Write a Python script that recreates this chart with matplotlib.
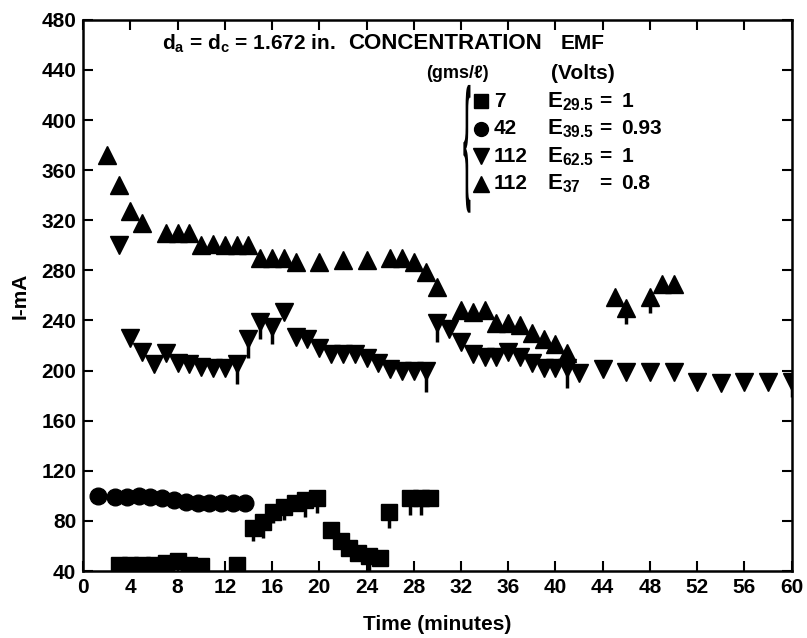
import matplotlib
matplotlib.use('Agg')
import matplotlib.pyplot as plt
from matplotlib.textpath import TextPath
from matplotlib.patches import PathPatch
from matplotlib.transforms import Affine2D
from matplotlib.font_manager import FontProperties

plt.rcParams['font.family'] = ['Liberation Sans', 'DejaVu Sans']
plt.rcParams['font.weight'] = 'bold'
plt.rcParams['mathtext.default'] = 'regular'

# 7 gms/l  (squares)
t_sq = [3, 4, 5, 6, 7, 8, 9, 10, 13,
        14.4, 15.2, 16.1, 17, 17.9, 18.8, 19.8,
        21, 21.8, 22.5, 23.3, 24.2, 25.1, 25.9,
        27.7, 28.6, 29.4]
i_sq = [45, 45, 45, 45, 46, 48, 45, 44, 45,
        74, 79, 87, 91, 94, 97, 98,
        73, 64, 58, 54, 52, 50, 87,
        98, 98, 98]
# smeared "drips" below some points of the scan (mA below the mark)
drip_sq = [0, 0, 0, 0, 0, 0, 0, 0, 0,
           10, 13, 9, 10, 0, 14, 12,
           0, 0, 0, 0, 12, 0, 13,
           13, 13, 0]

# 42 gms/l  (circles)
t_ci = [1.3, 2.7, 3.7, 4.7, 5.7, 6.7, 7.7, 8.7, 9.7, 10.7, 11.7, 12.7, 13.7]
i_ci = [100, 99, 99, 100, 99, 98, 97, 95, 94, 94, 94, 94, 94]

# 112 gms/l, E62.5  (down triangles)
t_dn = [3, 4, 5, 6, 7, 8, 9, 10, 11, 12, 13,
        14, 15, 16, 17, 18, 19, 20,
        21, 22, 23, 24, 25, 26, 27, 28, 29,
        30, 31, 32, 33, 34, 35, 36, 37, 38, 39, 40, 41, 42,
        44, 46, 48, 50, 52, 54, 56, 58, 60]
i_dn = [300, 226, 215, 205, 214, 206, 205, 203, 202, 202, 205,
        225, 239, 235, 247, 227, 225, 218,
        213, 213, 213, 210, 206, 201, 200, 200, 200,
        238, 233, 223, 213, 211, 211, 215, 211, 206, 202, 202, 202, 198,
        201, 199, 199, 199, 191, 190, 191, 191, 191]
drip_dn = [0, 0, 0, 0, 0, 0, 0, 0, 0, 0, 16,
           15, 14, 14, 0, 0, 0, 0,
           0, 0, 0, 0, 0, 0, 0, 0, 17,
           15, 0, 0, 0, 0, 0, 0, 0, 0, 0, 0, 16, 0,
           0, 0, 0, 0, 0, 0, 0, 0, 12]

# 112 gms/l, E37  (up triangles)
t_up = [2, 3, 4, 5, 7, 8, 9, 10, 11, 12, 13, 14,
        15, 16, 17, 18, 20, 22, 24, 26, 27, 28, 29, 30,
        32, 33, 34, 35, 36, 37, 38, 39, 40, 41,
        45, 46, 48, 49, 50]
i_up = [372, 348, 327, 318, 310, 310, 310, 300, 301, 300, 300, 300,
        290, 290, 290, 287, 287, 288, 288, 290, 290, 287, 279, 267,
        248, 247, 248, 238, 238, 236, 230, 225, 221, 214,
        259, 250, 259, 269, 269]
drip_up = [0] * 35 + [13, 13, 0, 0]

legend_marks = ['s', 'o', 'v', '^']
legend_conc = ['7', '42', '112', '112']
legend_emf = ['$E_{29.5}$', '$E_{39.5}$', '$E_{62.5}$', '$E_{37}$']
legend_volts = ['1', '0.93', '1', '0.8']

fig = plt.figure(figsize=(8.07, 6.38), dpi=100)
ax = fig.add_axes([0.103, 0.105, 0.878, 0.864])

series = [(t_sq, i_sq, drip_sq, 's', 11),
          (t_ci, i_ci, [0] * len(t_ci), 'o', 12),
          (t_dn, i_dn, drip_dn, 'v', 13),
          (t_up, i_up, drip_up, '^', 13)]
for t, y, d, m, ms in series:
    ax.errorbar(t, y, yerr=[d, [0] * len(d)], fmt=m, color='black', ms=ms,
                elinewidth=2.5, capsize=0, ls='none')

ax.set_xlim(0, 60)
ax.set_ylim(40, 480)
ax.set_xticks(range(0, 61, 4))
ax.set_yticks(range(40, 481, 40))
ax.tick_params(direction='in', length=7, width=1.5, top=True, right=True,
               labelsize=15, pad=5)
for lab in ax.get_xticklabels() + ax.get_yticklabels():
    lab.set_fontweight('bold')
for sp in ax.spines.values():
    sp.set_linewidth(1.8)

ax.set_xlabel('Time (minutes)', fontsize=15, fontweight='bold', labelpad=13)
ax.set_ylabel('I-mA', fontsize=15, fontweight='bold', labelpad=8)

# header text
fs = 15
ax.text(6.7, 461, '$d_a$ = $d_c$ = 1.672 in.', fontsize=fs,
        fontweight='bold', ha='left', va='center')
ax.text(22.4, 461, 'CONCENTRATION', fontsize=fs + 1, fontweight='bold',
        ha='left', va='center')
ax.text(42.3, 461, 'EMF', fontsize=fs, fontweight='bold', ha='center', va='center')
ax.text(31.7, 437, '(gms/ℓ)', fontsize=13, fontweight='bold', ha='center', va='center')
ax.text(42.3, 437, '(Volts)', fontsize=fs, fontweight='bold', ha='center', va='center')

rows = [415, 393, 371, 349]
for m, c, e, v, y in zip(legend_marks, legend_conc, legend_emf, legend_volts, rows):
    ax.plot([33.7], [y], m, color='black', ms=10 if m in 'so' else 12)
    ax.text(34.8, y, c, fontsize=fs, fontweight='bold', ha='left', va='center')
    ax.text(39.3, y, e, fontsize=fs + 1, fontweight='bold', ha='left', va='center')
    ax.text(44.2, y, '=', fontsize=fs, fontweight='bold', ha='center', va='center')
    ax.text(45.6, y, v, fontsize=fs, fontweight='bold', ha='left', va='center')

# stretched brace
tp = TextPath((0, 0), '{', size=10, prop=FontProperties(family='Liberation Sans'))
bb = tp.get_extents()
x0, x1, y0, y1 = 32.2, 32.8, 326, 428
tr = Affine2D().translate(-bb.x0, -bb.y0).scale((x1 - x0) / bb.width,
                                                   (y1 - y0) / bb.height).translate(x0, y0)
ax.add_patch(PathPatch(tr.transform_path(tp), color='black', lw=0))

fig.savefig('out.png', dpi=100)
